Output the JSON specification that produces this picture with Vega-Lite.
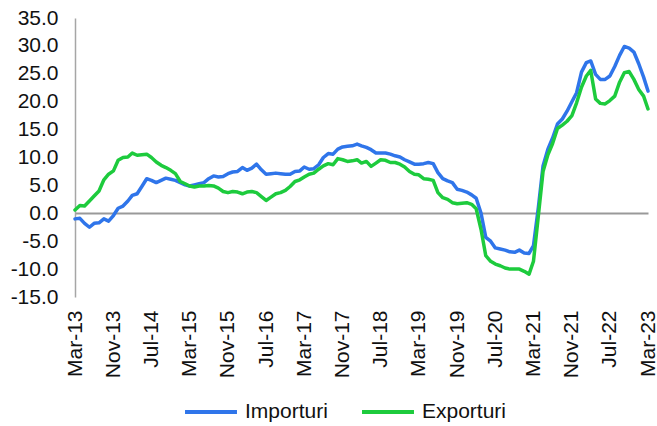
{
  "$schema": "https://vega.github.io/schema/vega-lite/v6.json",
  "width": 573,
  "height": 279,
  "autosize": "none",
  "padding": {"left": 75, "top": 18, "right": 9, "bottom": 129},
  "background": "white",
  "config": {"view": {"stroke": null}, "font": "Liberation Sans"},
  "data": {"values": [
    {"d":"2013-03-01","Importuri":-1.0,"Exporturi":0.6},
    {"d":"2013-04-01","Importuri":-0.9,"Exporturi":1.4},
    {"d":"2013-05-01","Importuri":-1.8,"Exporturi":1.3},
    {"d":"2013-06-01","Importuri":-2.5,"Exporturi":2.2},
    {"d":"2013-07-01","Importuri":-1.8,"Exporturi":3.1},
    {"d":"2013-08-01","Importuri":-1.7,"Exporturi":4.0},
    {"d":"2013-09-01","Importuri":-1.0,"Exporturi":6.0},
    {"d":"2013-10-01","Importuri":-1.4,"Exporturi":7.0},
    {"d":"2013-11-01","Importuri":-0.4,"Exporturi":7.6},
    {"d":"2013-12-01","Importuri":0.9,"Exporturi":9.5},
    {"d":"2014-01-01","Importuri":1.3,"Exporturi":10.0},
    {"d":"2014-02-01","Importuri":2.2,"Exporturi":10.1},
    {"d":"2014-03-01","Importuri":3.2,"Exporturi":10.8},
    {"d":"2014-04-01","Importuri":3.5,"Exporturi":10.4},
    {"d":"2014-05-01","Importuri":4.8,"Exporturi":10.5},
    {"d":"2014-06-01","Importuri":6.2,"Exporturi":10.6},
    {"d":"2014-07-01","Importuri":5.9,"Exporturi":10.0},
    {"d":"2014-08-01","Importuri":5.5,"Exporturi":9.2},
    {"d":"2014-09-01","Importuri":5.9,"Exporturi":8.6},
    {"d":"2014-10-01","Importuri":6.3,"Exporturi":8.2},
    {"d":"2014-11-01","Importuri":6.1,"Exporturi":7.7},
    {"d":"2014-12-01","Importuri":5.9,"Exporturi":7.1},
    {"d":"2015-01-01","Importuri":5.5,"Exporturi":5.7},
    {"d":"2015-02-01","Importuri":5.1,"Exporturi":5.3},
    {"d":"2015-03-01","Importuri":4.9,"Exporturi":4.9},
    {"d":"2015-04-01","Importuri":5.1,"Exporturi":4.7},
    {"d":"2015-05-01","Importuri":5.3,"Exporturi":4.9},
    {"d":"2015-06-01","Importuri":5.5,"Exporturi":4.9},
    {"d":"2015-07-01","Importuri":6.2,"Exporturi":5.0},
    {"d":"2015-08-01","Importuri":6.7,"Exporturi":4.9},
    {"d":"2015-09-01","Importuri":6.5,"Exporturi":4.5},
    {"d":"2015-10-01","Importuri":6.6,"Exporturi":3.9},
    {"d":"2015-11-01","Importuri":7.1,"Exporturi":3.7},
    {"d":"2015-12-01","Importuri":7.4,"Exporturi":3.9},
    {"d":"2016-01-01","Importuri":7.5,"Exporturi":3.8},
    {"d":"2016-02-01","Importuri":8.2,"Exporturi":3.5},
    {"d":"2016-03-01","Importuri":7.7,"Exporturi":3.8},
    {"d":"2016-04-01","Importuri":8.1,"Exporturi":3.9},
    {"d":"2016-05-01","Importuri":8.8,"Exporturi":3.7},
    {"d":"2016-06-01","Importuri":7.8,"Exporturi":3.0},
    {"d":"2016-07-01","Importuri":7.0,"Exporturi":2.3},
    {"d":"2016-08-01","Importuri":7.1,"Exporturi":2.9},
    {"d":"2016-09-01","Importuri":7.2,"Exporturi":3.5},
    {"d":"2016-10-01","Importuri":7.1,"Exporturi":3.7},
    {"d":"2016-11-01","Importuri":7.0,"Exporturi":4.1},
    {"d":"2016-12-01","Importuri":7.0,"Exporturi":4.8},
    {"d":"2017-01-01","Importuri":7.5,"Exporturi":5.7},
    {"d":"2017-02-01","Importuri":7.6,"Exporturi":6.0},
    {"d":"2017-03-01","Importuri":8.3,"Exporturi":6.5},
    {"d":"2017-04-01","Importuri":7.9,"Exporturi":7.0},
    {"d":"2017-05-01","Importuri":8.0,"Exporturi":7.2},
    {"d":"2017-06-01","Importuri":8.7,"Exporturi":7.9},
    {"d":"2017-07-01","Importuri":10.0,"Exporturi":8.5},
    {"d":"2017-08-01","Importuri":10.7,"Exporturi":8.9},
    {"d":"2017-09-01","Importuri":10.6,"Exporturi":8.7},
    {"d":"2017-10-01","Importuri":11.5,"Exporturi":9.8},
    {"d":"2017-11-01","Importuri":11.9,"Exporturi":9.6},
    {"d":"2017-12-01","Importuri":12.0,"Exporturi":9.3},
    {"d":"2018-01-01","Importuri":12.1,"Exporturi":9.4},
    {"d":"2018-02-01","Importuri":12.4,"Exporturi":9.6},
    {"d":"2018-03-01","Importuri":12.1,"Exporturi":9.0},
    {"d":"2018-04-01","Importuri":11.8,"Exporturi":9.3},
    {"d":"2018-05-01","Importuri":11.4,"Exporturi":8.4},
    {"d":"2018-06-01","Importuri":10.8,"Exporturi":9.0},
    {"d":"2018-07-01","Importuri":10.8,"Exporturi":9.6},
    {"d":"2018-08-01","Importuri":10.8,"Exporturi":9.5},
    {"d":"2018-09-01","Importuri":10.6,"Exporturi":9.1},
    {"d":"2018-10-01","Importuri":10.3,"Exporturi":9.1},
    {"d":"2018-11-01","Importuri":10.1,"Exporturi":8.8},
    {"d":"2018-12-01","Importuri":9.6,"Exporturi":8.3},
    {"d":"2019-01-01","Importuri":9.2,"Exporturi":7.5},
    {"d":"2019-02-01","Importuri":8.8,"Exporturi":7.0},
    {"d":"2019-03-01","Importuri":8.8,"Exporturi":6.9},
    {"d":"2019-04-01","Importuri":8.9,"Exporturi":6.2},
    {"d":"2019-05-01","Importuri":9.1,"Exporturi":6.1},
    {"d":"2019-06-01","Importuri":8.9,"Exporturi":5.9},
    {"d":"2019-07-01","Importuri":7.3,"Exporturi":3.7},
    {"d":"2019-08-01","Importuri":6.2,"Exporturi":2.8},
    {"d":"2019-09-01","Importuri":5.8,"Exporturi":2.5},
    {"d":"2019-10-01","Importuri":5.5,"Exporturi":1.9},
    {"d":"2019-11-01","Importuri":4.3,"Exporturi":1.7},
    {"d":"2019-12-01","Importuri":4.1,"Exporturi":1.8},
    {"d":"2020-01-01","Importuri":3.8,"Exporturi":1.9},
    {"d":"2020-02-01","Importuri":3.3,"Exporturi":1.6},
    {"d":"2020-03-01","Importuri":2.7,"Exporturi":0.8},
    {"d":"2020-04-01","Importuri":0.0,"Exporturi":-2.9},
    {"d":"2020-05-01","Importuri":-4.3,"Exporturi":-7.6},
    {"d":"2020-06-01","Importuri":-5.0,"Exporturi":-8.6},
    {"d":"2020-07-01","Importuri":-6.2,"Exporturi":-9.1},
    {"d":"2020-08-01","Importuri":-6.4,"Exporturi":-9.4},
    {"d":"2020-09-01","Importuri":-6.6,"Exporturi":-9.8},
    {"d":"2020-10-01","Importuri":-6.9,"Exporturi":-10.0},
    {"d":"2020-11-01","Importuri":-7.0,"Exporturi":-10.0},
    {"d":"2020-12-01","Importuri":-6.6,"Exporturi":-10.0},
    {"d":"2021-01-01","Importuri":-7.1,"Exporturi":-10.4},
    {"d":"2021-02-01","Importuri":-7.2,"Exporturi":-10.9},
    {"d":"2021-03-01","Importuri":-5.8,"Exporturi":-8.6},
    {"d":"2021-04-01","Importuri":1.0,"Exporturi":-0.5},
    {"d":"2021-05-01","Importuri":8.5,"Exporturi":7.5},
    {"d":"2021-06-01","Importuri":11.5,"Exporturi":10.5},
    {"d":"2021-07-01","Importuri":13.5,"Exporturi":12.5},
    {"d":"2021-08-01","Importuri":16.0,"Exporturi":15.2},
    {"d":"2021-09-01","Importuri":16.9,"Exporturi":15.8},
    {"d":"2021-10-01","Importuri":18.3,"Exporturi":16.5},
    {"d":"2021-11-01","Importuri":20.0,"Exporturi":17.5},
    {"d":"2021-12-01","Importuri":21.6,"Exporturi":19.8},
    {"d":"2022-01-01","Importuri":25.3,"Exporturi":22.6},
    {"d":"2022-02-01","Importuri":27.0,"Exporturi":24.6},
    {"d":"2022-03-01","Importuri":27.3,"Exporturi":25.6},
    {"d":"2022-04-01","Importuri":24.9,"Exporturi":20.5},
    {"d":"2022-05-01","Importuri":24.0,"Exporturi":19.7},
    {"d":"2022-06-01","Importuri":24.0,"Exporturi":19.6},
    {"d":"2022-07-01","Importuri":24.6,"Exporturi":20.2},
    {"d":"2022-08-01","Importuri":26.3,"Exporturi":21.0},
    {"d":"2022-09-01","Importuri":28.3,"Exporturi":23.5},
    {"d":"2022-10-01","Importuri":29.9,"Exporturi":25.2},
    {"d":"2022-11-01","Importuri":29.6,"Exporturi":25.4},
    {"d":"2022-12-01","Importuri":28.9,"Exporturi":24.0},
    {"d":"2023-01-01","Importuri":26.8,"Exporturi":22.2},
    {"d":"2023-02-01","Importuri":24.4,"Exporturi":21.0},
    {"d":"2023-03-01","Importuri":21.9,"Exporturi":18.7}
  ]},
  "transform": [{"fold": ["Importuri", "Exporturi"], "as": ["series", "value"]}],
  "mark": {"type": "line", "strokeWidth": 3.5, "strokeCap": "round", "strokeJoin": "round"},
  "encoding": {
    "x": {
      "field": "d", "type": "temporal",
      "scale": {"type": "utc", "domain": [{"year": 2013, "month": 3, "date": 1, "utc": true}, {"year": 2023, "month": 3, "date": 1, "utc": true}]},
      "axis": {
        "title": null,
        "values": [
          {"year": 2013, "month": 3, "date": 1, "utc": true},
          {"year": 2013, "month": 11, "date": 1, "utc": true},
          {"year": 2014, "month": 7, "date": 1, "utc": true},
          {"year": 2015, "month": 3, "date": 1, "utc": true},
          {"year": 2015, "month": 11, "date": 1, "utc": true},
          {"year": 2016, "month": 7, "date": 1, "utc": true},
          {"year": 2017, "month": 3, "date": 1, "utc": true},
          {"year": 2017, "month": 11, "date": 1, "utc": true},
          {"year": 2018, "month": 7, "date": 1, "utc": true},
          {"year": 2019, "month": 3, "date": 1, "utc": true},
          {"year": 2019, "month": 11, "date": 1, "utc": true},
          {"year": 2020, "month": 7, "date": 1, "utc": true},
          {"year": 2021, "month": 3, "date": 1, "utc": true},
          {"year": 2021, "month": 11, "date": 1, "utc": true},
          {"year": 2022, "month": 7, "date": 1, "utc": true},
          {"year": 2023, "month": 3, "date": 1, "utc": true}
        ],
        "labelExpr": "utcFormat(datum.value, '%b-%y')",
        "labelAngle": 270,
        "labelFontSize": 21,
        "labelColor": "#111111",
        "labelPadding": 13,
        "labelOverlap": false,
        "labelFlush": false,
        "domain": false,
        "ticks": false,
        "grid": false
      }
    },
    "y": {
      "field": "value", "type": "quantitative",
      "scale": {"domain": [-15, 35], "nice": false, "zero": false},
      "axis": {
        "title": null,
        "values": [-15, -10, -5, 0, 5, 10, 15, 20, 25, 30, 35],
        "labelExpr": "replace(format(datum.value, '.1f'), '\u2212', '-')",
        "labelFontSize": 21,
        "labelColor": "#111111",
        "labelPadding": 17,
        "labelOverlap": false,
        "labelFlush": false,
        "domainColor": "#A6A6A6",
        "domainWidth": 1.5,
        "ticks": false,
        "grid": true,
        "gridColor": "#999999",
        "gridWidth": 2,
        "gridOpacity": {"condition": {"test": "datum.value === 0", "value": 1}, "value": 0}
      }
    },
    "color": {
      "field": "series", "type": "nominal",
      "scale": {"domain": ["Importuri", "Exporturi"], "range": ["#2F75EA", "#1DCB3D"]},
      "legend": {
        "title": null,
        "orient": "none",
        "legendX": 108,
        "legendY": 366,
        "direction": "horizontal",
        "padding": 0,
        "labelFontSize": 21,
        "labelColor": "#111111",
        "symbolSize": 2700,
        "symbolStrokeWidth": 4,
        "columnPadding": 26,
        "labelOffset": 6
      }
    }
  }
}
